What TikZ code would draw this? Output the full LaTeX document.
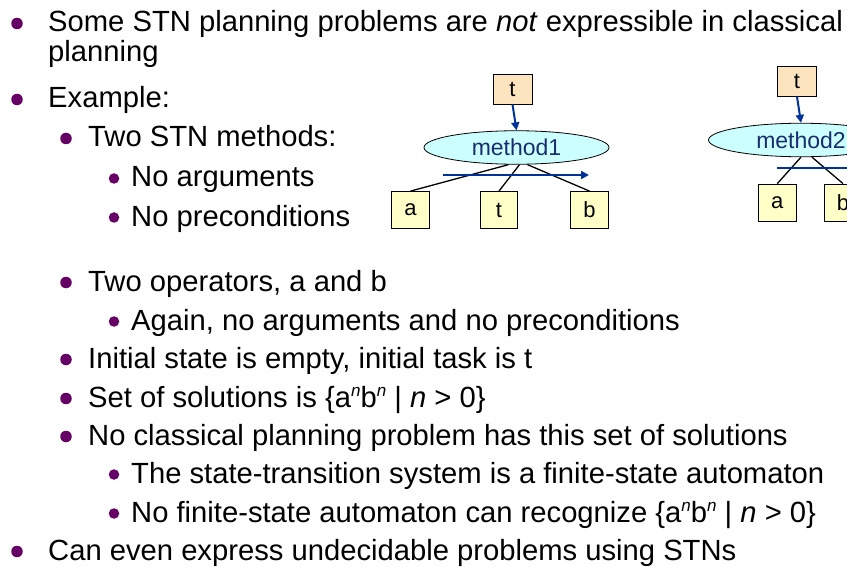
\documentclass[tikz,border=0pt]{standalone}
\usepackage{fontspec}
\setmainfont{Liberation Sans}
\usetikzlibrary{arrows.meta,shapes.geometric,calc}
\definecolor{bulc}{RGB}{102,0,102}
\definecolor{taskc}{RGB}{252,228,190}
\definecolor{opc}{RGB}{255,255,200}
\definecolor{methc}{RGB}{204,255,255}
\definecolor{arrc}{RGB}{0,51,153}
\definecolor{methtxt}{RGB}{25,45,110}
\newcommand\supn{\raisebox{0.36em}{\fontsize{17}{17}\selectfont\itshape n}}
\begin{document}
\begin{tikzpicture}[x=1pt,y=-1pt,
  txt/.style={anchor=base west,inner sep=0,font=\fontsize{29.2}{34}\selectfont},
  bulA/.style={circle,fill=bulc,inner sep=0,minimum size=11.5pt},
  bulB/.style={circle,fill=bulc,inner sep=0,minimum size=10.5pt},
  taskbox/.style={draw=black,line width=0.8pt,fill=taskc,inner sep=0,minimum width=39pt,minimum height=30pt,font=\fontsize{22}{22}\selectfont},
  opbox/.style={draw=black,line width=0.8pt,fill=opc,inner sep=0,minimum width=37.5pt,minimum height=37pt,font=\fontsize{22}{22}\selectfont},
  meth/.style={ellipse,draw=black,line width=0.8pt,fill=methc,inner sep=0,minimum width=185pt,minimum height=33.5pt,text=methtxt,font=\fontsize{23}{23}\selectfont},
  sub/.style={line width=1.3pt,black},
  order/.style={line width=2pt,arrc,-{Triangle[length=8pt,width=8pt]}}
]
\useasboundingbox (0,0) rectangle (847,567);
\clip (0,0) rectangle (847,567);

% ---------- bullets and text ----------
\node[bulA] (b1) at (17,23.5) {};
\node[txt] (l1) at (48,32) {Some STN planning problems are \textit{not} expressible in classical};
\node[txt] (l1b) at (48,62) {planning};
\node[bulA] (b2) at (17,99.5) {};
\node[txt] (l2) at (48,108) {Example:};
\node[bulA] (b3) at (66,138.5) {};
\node[txt] (l3) at (88,147) {Two STN methods:};
\node[bulB] (b4) at (114,178.5) {};
\node[txt] (l4) at (131,187) {No arguments};
\node[bulB] (b5) at (114,217.5) {};
\node[txt] (l5) at (131,226) {No preconditions};
\node[bulA] (b6) at (66,282.5) {};
\node[txt] (l6) at (88,291) {Two operators, a and b};
\node[bulB] (b7) at (114,321.5) {};
\node[txt] (l7) at (131,330) {Again, no arguments and no preconditions};
\node[bulA] (b8) at (66,359.5) {};
\node[txt] (l8) at (88,368) {Initial state is empty, initial task is t};
\node[bulA] (b9) at (66,398.5) {};
\node[txt] (l9) at (88,407) {Set of solutions is \{a\supn b\supn\ | \textit{n} > 0\}};
\node[bulA] (b10) at (66,436.5) {};
\node[txt] (l10) at (88,445) {No classical planning problem has this set of solutions};
\node[bulB] (b11) at (114,474.5) {};
\node[txt] (l11) at (131,483) {The state-transition system is a finite-state automaton};
\node[bulB] (b12) at (114,513.5) {};
\node[txt] (l12) at (131,522) {No finite-state automaton can recognize \{a\supn b\supn\ | \textit{n} > 0\}};
\node[bulA] (b13) at (17,551.5) {};
\node[txt] (l13) at (48,560) {Can even express undecidable problems using STNs};

% ---------- method1 ----------
\node[taskbox] (t1) at (512.5,89) {t};
\node[meth] (m1) at (516.5,147.5) {method1};
\node[opbox] (a1) at (410.5,210) {a};
\node[opbox] (tt1) at (499,210) {t};
\node[opbox] (bb1) at (589.5,210) {b};
\draw[order] (t1.south) -- (m1.north);
\draw[sub] ($(m1.south)+(-8,0)$) -- (a1.north);
\draw[sub] ($(m1.south)+(3,0)$) -- (tt1.north);
\draw[sub] ($(m1.south)+(11,0)$) -- (bb1.north);
\coordinate (h1s) at (443,175);
\coordinate (h1e) at (589,175);
\draw[order] (h1s) -- (h1e);

% ---------- method2 ----------
\node[taskbox] (t2) at (797,81.2) {t};
\node[meth] (m2) at (801,140) {method2};
\node[opbox] (a2) at (777.3,202.5) {a};
\node[opbox] (bb2) at (843,202.5) {b};
\draw[order] (t2.south) -- (m2.north);
\draw[sub] (m2.south) -- (a2.north);
\draw[sub] ($(m2.south)+(11,0)$) -- (bb2.north);
\coordinate (h2s) at (777,168.3);
\coordinate (h2e) at (860,168.3);
\draw[order] (h2s) -- (h2e);
\end{tikzpicture}
\end{document}
